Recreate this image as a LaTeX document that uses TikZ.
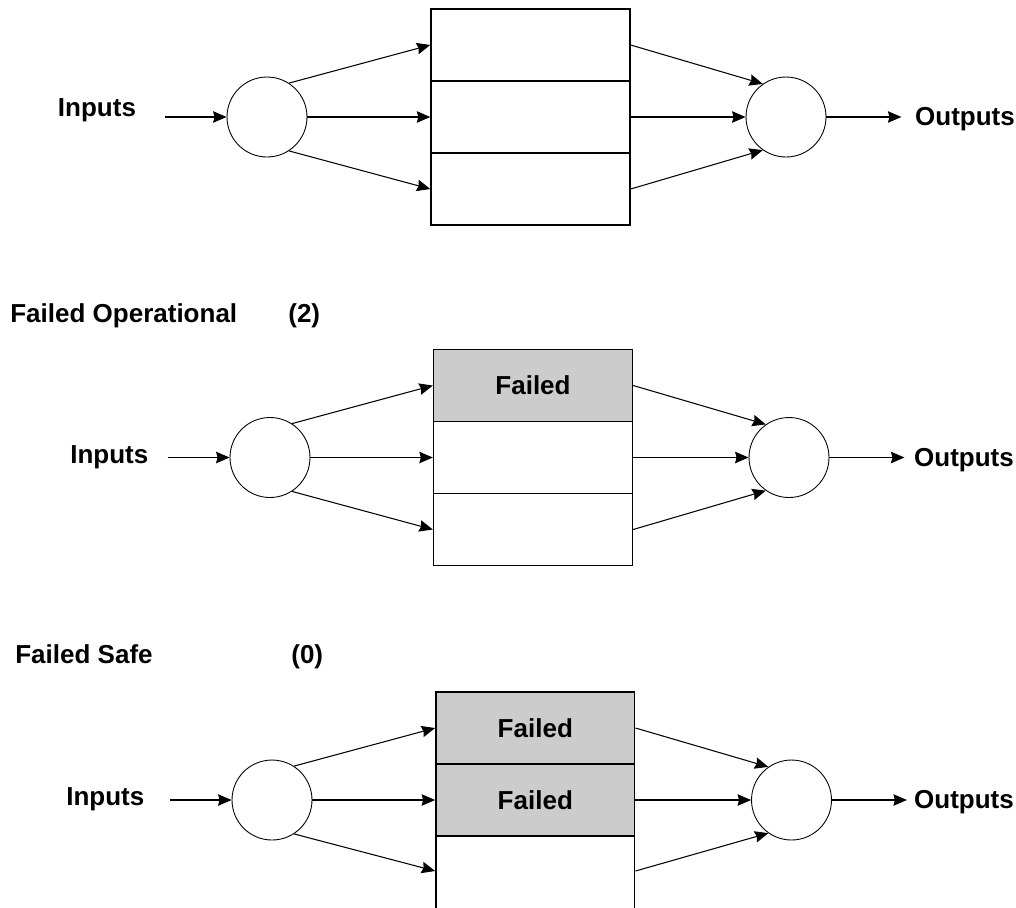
\documentclass[tikz,border=0pt]{standalone}
\usepackage{fontspec}
\setmainfont{Liberation Sans}
\usetikzlibrary{arrows.meta}

\tikzset{
	flow/.style={-{Stealth[length=2.7mm,width=2.3mm,inset=0.3mm]}, line width=0.6pt},
	hub/.style={circle, draw, line width=0.5pt, minimum size=1.6cm, inner sep=0pt},
	unit/.style={rectangle, draw, line width=0.8pt, minimum width=3.98cm, minimum height=1.44cm, inner sep=0pt, font=\bfseries\fontsize{14.8}{17}\selectfont},
	failed/.style={unit, fill=gray!40},
	lbl/.style={inner sep=0pt, anchor=base west, font=\bfseries\fontsize{14.8}{17}\selectfont}
}

\begin{document}
\begin{tikzpicture}[x=0.02cm,y=-0.02cm]
	\useasboundingbox (0,0) rectangle (1016,907);
	
	%top: all units working
	\node[lbl] (in1) at (57.6,116.7) {Inputs};
	\node[hub] (s1) at (267,117) {};
	\node[unit] (m1a) at (530.5,45)  {};
	\node[unit] (m1b) at (530.5,117) {};
	\node[unit] (m1c) at (530.5,189) {};
	\node[hub] (j1) at (786,117) {};
	\node[lbl] (out1) at (914.8,125.7) {Outputs};
	%
	\draw[flow] ([xshift=-1.24cm]s1.west) -- (s1);
	\draw[flow] (s1.57) -- (m1a.west);
	\draw[flow] (s1) -- (m1b);
	\draw[flow] (s1.-57) -- (m1c.west);
	\draw[flow] (m1a.east) -- (j1.125);
	\draw[flow] (m1b) -- (j1);
	\draw[flow] (m1c.east) -- (j1.-125);
	\draw[flow] (j1) -- ([xshift=1.5cm]j1.east);
	
	%middle: one unit failed
	\node[lbl] (t2) at (10,322.7) {Failed Operational};
	\node[lbl] (n2) at (288,322.7) {(2)};
	\node[lbl] (in2) at (70,463.3) {Inputs};
	\node[hub] (s2) at (270,457.5) {};
	\node[failed] (m2a) at (533,385.5) {Failed};
	\node[unit] (m2b) at (533,457.5) {};
	\node[unit] (m2c) at (533,529.5) {};
	\node[hub] (j2) at (789,457.5) {};
	\node[lbl] (out2) at (913.8,466.7) {Outputs};
	%
	\draw[flow] ([xshift=-1.24cm]s2.west) -- (s2);
	\draw[flow] (s2.57) -- (m2a.west);
	\draw[flow] (s2) -- (m2b);
	\draw[flow] (s2.-57) -- (m2c.west);
	\draw[flow] (m2a.east) -- (j2.125);
	\draw[flow] (m2b) -- (j2);
	\draw[flow] (m2c.east) -- (j2.-125);
	\draw[flow] (j2) -- ([xshift=1.5cm]j2.east);
	
	%bottom: two units failed (last unit runs off the page)
	\node[lbl] (t3) at (15,663) {Failed Safe};
	\node[lbl] (n3) at (291,663) {(0)};
	\node[lbl] (in3) at (66,805) {Inputs};
	\node[hub] (s3) at (272,800) {};
	\node[failed] (m3a) at (535.3,728) {Failed};
	\node[failed] (m3b) at (535.3,800) {Failed};
	\node[unit, minimum height=1.8cm, anchor=north] (m3c) at (535.3,836) {};
	\node[hub] (j3) at (791.5,800) {};
	\node[lbl] (out3) at (913.8,808) {Outputs};
	%
	\draw[flow] ([xshift=-1.24cm]s3.west) -- (s3);
	\draw[flow] (s3.57) -- (m3a.west);
	\draw[flow] (s3) -- (m3b);
	\draw[flow] (s3.-57) -- ([yshift=-0.7cm]m3c.north west);
	\draw[flow] (m3a.east) -- (j3.125);
	\draw[flow] (m3b) -- (j3);
	\draw[flow] ([yshift=-0.7cm]m3c.north east) -- (j3.-125);
	\draw[flow] (j3) -- ([xshift=1.5cm]j3.east);
\end{tikzpicture}
\end{document}
